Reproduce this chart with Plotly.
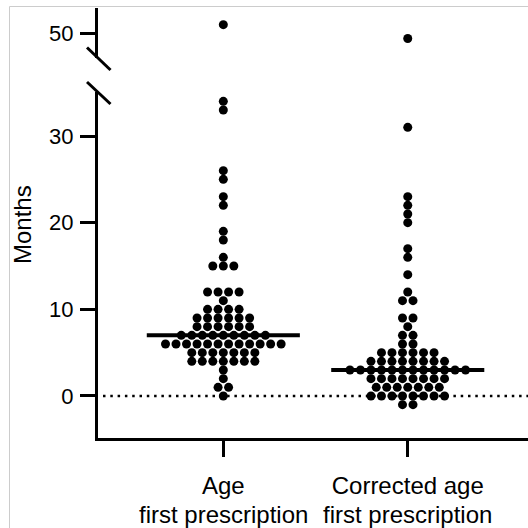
import numpy as np
import plotly.graph_objects as go

# ---- data ----
category_line1 = ["Age", "Corrected age"]
category_line2 = ["first prescription", "first prescription"]

age_values = [51, 34, 33, 26, 25, 23, 22, 19, 18, 16,
              15, 15, 15,
              12, 12, 12, 12,
              11,
              10, 10, 10, 10,
              9, 9, 9, 9, 9, 9,
              8, 8, 8, 8, 8, 8,
              7, 7, 7, 7, 7, 7, 7, 7, 7,
              6, 6, 6, 6, 6, 6, 6, 6, 6, 6, 6, 6,
              5, 5, 5, 5, 5, 5, 5,
              4, 4, 4, 4, 4, 4, 4,
              3, 2, 1, 1, 0]

corrected_values = [49.4, 31, 23, 22, 21, 20, 17, 16, 14, 12,
                    11, 11, 9, 9, 8, 7, 7, 6, 6,
                    5, 5, 5, 5, 5, 5,
                    4, 4, 4, 4, 4, 4, 4, 4,
                    3, 3, 3, 3, 3, 3, 3, 3, 3, 3, 3, 3,
                    2, 2, 2, 2, 2, 2, 2, 2,
                    1, 1, 1, 1, 1, 1, 1,
                    0, 0, 0, 0, 0, 0, 0, 0,
                    -1, -1]

lower_ticks = [0, 10, 20, 30]
upper_ticks = [50]
break_value = 40

series = [age_values, corrected_values]

# ---- layout geometry (pixels) ----
W = H = 528
ml, mr, mt, mb = 98, 0, 8, 90
pw, ph = W - ml - mr, H - mt - mb
def px(xp):
    return (xp - ml) / pw
def py(yp):
    return (H - mb - yp) / ph

dx = 0.057  # horizontal spacing between dots of same value (category units)

fig = go.Figure()

for ci, vals in enumerate(series):
    vals = np.array(vals, dtype=float)
    xs, ys = [], []
    for v in sorted(set(vals.tolist())):
        k = int(np.sum(vals == v))
        for i in range(k):
            xs.append(ci + (i - (k - 1) / 2) * dx)
            ys.append(v)
    xs = np.array(xs); ys = np.array(ys)
    lo = ys <= break_value
    fig.add_trace(go.Scatter(x=xs[lo], y=ys[lo], mode="markers",
                             marker=dict(size=9, color="black", line=dict(width=0)),
                             xaxis="x", yaxis="y", cliponaxis=False, hoverinfo="skip"))
    fig.add_trace(go.Scatter(x=xs[~lo], y=ys[~lo], mode="markers",
                             marker=dict(size=9, color="black", line=dict(width=0)),
                             xaxis="x", yaxis="y2", cliponaxis=False, hoverinfo="skip"))
    med = float(np.median(vals))
    fig.add_trace(go.Scatter(x=[ci - 0.415, ci + 0.415], y=[med, med], mode="lines",
                             line=dict(color="black", width=4),
                             xaxis="x", yaxis="y", hoverinfo="skip"))

axis_common = dict(showline=True, linewidth=3, linecolor="black", ticks="outside",
                   tickwidth=3, tickcolor="black", showgrid=False, zeroline=False,
                   automargin=False, tickfont=dict(family="Liberation Sans", size=22, color="black"))

annotations = [
    dict(text="Months", xref="paper", yref="paper", x=px(22), y=py(225), textangle=-90,
         showarrow=False, xanchor="center", yanchor="middle",
         font=dict(family="Liberation Sans", size=24, color="black")),
]
for ci, t in enumerate(category_line2):
    annotations.append(dict(text=t, xref="x", yref="paper", x=ci, y=py(499),
                            showarrow=False, xanchor="center", yanchor="top",
                            font=dict(family="Liberation Sans", size=24, color="black")))

fig.update_layout(
    width=W, height=H,
    margin=dict(l=ml, r=mr, t=mt, b=mb, pad=0),
    paper_bgcolor="white", plot_bgcolor="white",
    showlegend=False,
    font=dict(family="Liberation Sans", color="black"),
    xaxis=dict(**{**axis_common, "tickfont": dict(family="Liberation Sans", size=24, color="black")},
               domain=[0, 1], range=[-0.6795, 1.652], tickmode="array",
               tickvals=[0, 1], ticktext=category_line1, ticklen=16, anchor="y",
               ticklabelstandoff=8),
    yaxis=dict(**axis_common, domain=[0, py(92)], range=[-4.85, 35.08],
               tickmode="array", tickvals=lower_ticks, ticklen=15, anchor="x",
               ticklabelstandoff=2),
    yaxis2=dict(**axis_common, domain=[py(58), 1], range=[47.15, 52.92],
                tickmode="array", tickvals=upper_ticks, ticklen=15, anchor="x",
                ticklabelstandoff=2),
    shapes=[
        dict(type="line", xref="paper", yref="y", x0=px(103), x1=1, y0=0, y1=0,
             line=dict(color="black", width=2.5, dash="2.5px,4.8px"), layer="below"),
        dict(type="line", xref="paper", yref="paper", x0=px(87), y0=py(82), x1=px(110.5), y1=py(104),
             line=dict(color="black", width=3)),
        dict(type="line", xref="paper", yref="paper", x0=px(87), y0=py(47.5), x1=px(110.5), y1=py(70),
             line=dict(color="black", width=3)),
        dict(type="rect", xref="paper", yref="paper", x0=px(9.5), y0=py(540), x1=px(540), y1=py(6.5),
             line=dict(color="#cccccc", width=1), fillcolor="rgba(0,0,0,0)", layer="below"),
    ],
    annotations=annotations,
)

fig.write_html("out.html", config={"displayModeBar": False},
               post_script="document.body.style.margin='0';")
